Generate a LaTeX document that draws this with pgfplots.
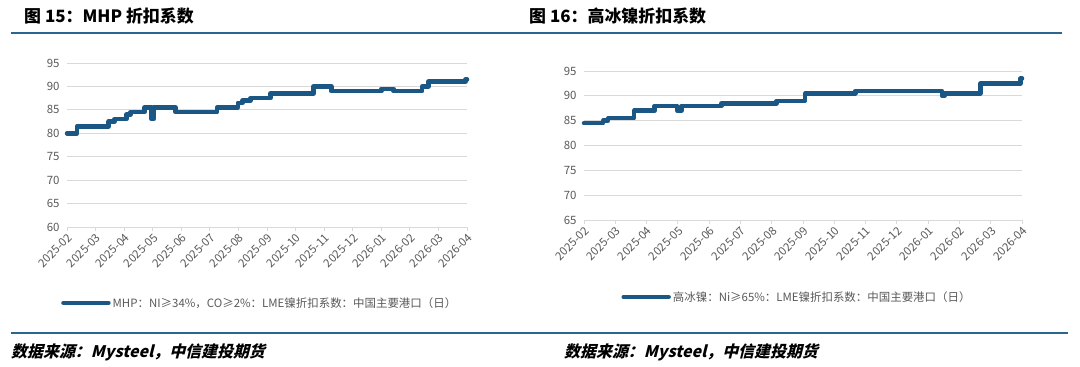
\documentclass[border=0pt]{standalone}
\usepackage{pgfplots}
\pgfplotsset{compat=1.18}
\usepackage{fontspec}
\setmainfont{Noto Sans CJK SC}
\newfontfamily\footfont{Noto Sans CJK SC}[FakeSlant=0.25]
\definecolor{serc}{HTML}{1A5784}
\definecolor{rulec}{HTML}{2B6690}
\definecolor{tickc}{HTML}{595959}
\definecolor{gridc}{HTML}{D9D9D9}
\pgfplotsset{
  myax/.style={
    scale only axis,
    xmin=0, xmax=14,
    xtick={0,...,14},
    xticklabels={2025-02,2025-03,2025-04,2025-05,2025-06,2025-07,2025-08,2025-09,2025-10,2025-11,2025-12,2026-01,2026-02,2026-03,2026-04},
    x tick label style={rotate=45, anchor=north east, inner sep=1bp, font=\fontsize{11.5}{13}\selectfont, text=tickc},
    y tick label style={font=\fontsize{11.5}{13}\selectfont, text=tickc},
    /pgf/number format/assume math mode=true,
    axis x line*=bottom, axis y line*=left,
    y axis line style={draw=none},
    x axis line style={draw=gridc, line width=0.8bp},
    ytick style={draw=none},
    xtick style={draw=gridc, line width=0.8bp},
    tick align=outside,
    major tick length=4bp,
    ymajorgrids, grid style={gridc, line width=0.8bp},
    legend style={draw=none, fill=none, font=\fontsize{11.5}{13}\selectfont, text=tickc, anchor=west, inner sep=0pt},
    legend image code/.code={\draw[serc, line width=4.5bp, line cap=round] (0bp,0bp) -- (45bp,0bp);},
    clip=false,
  }
}
\begin{document}
\begin{tikzpicture}[x=1bp,y=1bp]
\path (0,0) rectangle (1080,366);
\draw[rulec, line width=2.5bp] (11,333) -- (1062,333);
\draw[rulec, line width=2.5bp] (11,33) -- (1068,33);
\node[anchor=west, inner sep=0pt] at (24,350) {\fontsize{17}{20}\selectfont\bfseries 图 15：MHP 折扣系数};
\node[anchor=west, inner sep=0pt] at (529,350) {\fontsize{17}{20}\selectfont\bfseries 图 16：高冰镍折扣系数};
\node[anchor=west, inner sep=0pt] at (11,14) {\fontsize{16}{19}\selectfont\footfont\bfseries 数据来源：Mysteel，中信建投期货};
\node[anchor=west, inner sep=0pt] at (564,14) {\fontsize{16}{19}\selectfont\footfont\bfseries 数据来源：Mysteel，中信建投期货};

\begin{axis}[myax, at={(67bp,139bp)}, anchor=south west, width=400bp, height=164bp,
  ymin=60, ymax=95, ytick={60,65,...,95},
  legend style={at={(-0.015,-0.463)}}]
\addplot[const plot, serc, line width=4.5bp, line join=round, line cap=round] coordinates {
(0,80) (0.35,81.5) (1.46,82.5) (1.66,83) (2.08,84) (2.22,84.5) (2.71,85.5)
(2.96,83) (3.03,85.5) (3.8,84.5) (5.25,85.5) (5.98,86.5) (6.15,87) (6.42,87.5)
(7.12,88.5) (8.63,90) (9.25,89) (11.0,89.5) (11.43,89) (12.43,90) (12.65,91)
(13.95,91.5) (14,91.5)};
\addlegendentry{MHP：NI≥34\%，CO≥2\%：LME镍折扣系数：中国主要港口（日）}
\end{axis}

\begin{axis}[myax, at={(584bp,146bp)}, anchor=south west, width=438bp, height=149bp,
  ymin=65, ymax=95, ytick={65,70,...,95},
  legend style={at={(0.085,-0.517)}}]
\addplot[const plot, serc, line width=4.5bp, line join=round, line cap=round] coordinates {
(0,84.5) (0.61,85) (0.77,85.5) (1.6,87) (2.26,88) (2.98,87) (3.12,88) (4.4,88.5)
(6.16,89) (7.07,90.5) (8.67,91) (11.44,90) (11.52,90.5) (12.67,92.5) (13.95,93.5) (14,93.5)};
\addlegendentry{高冰镍：Ni≥65\%：LME镍折扣系数：中国主要港口（日）}
\end{axis}
\end{tikzpicture}
\end{document}
